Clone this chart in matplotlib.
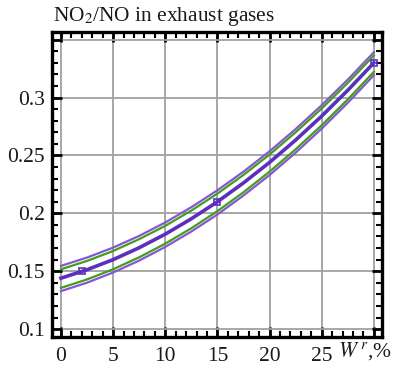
import matplotlib
matplotlib.use("Agg")
import matplotlib.pyplot as plt
from matplotlib.ticker import MultipleLocator

plt.rcParams['font.family'] = ['Liberation Serif', 'DejaVu Serif']
plt.rcParams['mathtext.fontset'] = 'stix'

x = [0, 2.5, 5, 7.5, 10, 12.5, 15, 17.5, 20, 22.5, 25, 27.5, 30]
center = [0.1440, 0.1513, 0.1600, 0.1703, 0.1820, 0.1953, 0.2100, 0.2263, 0.2440, 0.2633, 0.2840, 0.3063, 0.3300]
green_upper = [0.1517, 0.1589, 0.1675, 0.1777, 0.1892, 0.2024, 0.2170, 0.2332, 0.2508, 0.2700, 0.2906, 0.3127, 0.3363]
green_lower = [0.1356, 0.1429, 0.1517, 0.1620, 0.1738, 0.1871, 0.2019, 0.2182, 0.2360, 0.2553, 0.2761, 0.2984, 0.3222]
purple_upper = [0.1546, 0.1618, 0.1704, 0.1805, 0.1921, 0.2053, 0.2199, 0.2360, 0.2536, 0.2728, 0.2934, 0.3155, 0.3391]
purple_lower = [0.1328, 0.1401, 0.1489, 0.1592, 0.1710, 0.1843, 0.1990, 0.2154, 0.2331, 0.2524, 0.2732, 0.2955, 0.3193]
marker_x = [2, 15, 30]
marker_y = [0.150, 0.210, 0.330]

xticks = [0, 5, 10, 15, 20, 25, 30]
xticklabels = ['0', '5', '10', '15', '20', '25', '']
yticks = [0.1, 0.15, 0.2, 0.25, 0.3, 0.35]
yticklabels = ['0.1', '0.15', '0.2', '0.25', '0.3', '']

fig = plt.figure(figsize=(3.97, 3.68), dpi=100)
ax = fig.add_axes([0.131, 0.084, 0.831, 0.829])

c_center = '#5a30bc'
c_outer = '#8a55d2'
c_green = '#3f9e1e'

ax.plot(x, purple_upper, color=c_outer, lw=1.6, zorder=3)
ax.plot(x, purple_lower, color=c_outer, lw=1.6, zorder=3)
ax.plot(x, green_upper, color=c_green, lw=1.6, zorder=3)
ax.plot(x, green_lower, color=c_green, lw=1.6, zorder=3)
ax.plot(x, center, color=c_center, lw=2.6, zorder=4)
ax.plot(marker_x, marker_y, ls='none', marker='s', ms=4, mfc='none', mec=c_center, mew=1.2, zorder=5)

ax.set_xlim(-0.86, 30.77)
ax.set_ylim(0.0931, 0.3566)
ax.set_xticks(xticks)
ax.set_xticklabels(xticklabels)
ax.set_yticks(yticks)
ax.set_yticklabels(yticklabels)
ax.xaxis.set_minor_locator(MultipleLocator(1))
ax.yaxis.set_minor_locator(MultipleLocator(0.01))

ax.grid(True, which='major', color='#a0a0a0', lw=1.3, zorder=1)
ax.set_axisbelow(True)
for s in ax.spines.values():
    s.set_linewidth(2.4)
    s.set_color('black')

ax.tick_params(which='major', direction='in', length=7, width=2.0, top=True, right=True,
               labelsize=15.5, colors='black')
ax.tick_params(axis='x', which='major', pad=7)
ax.tick_params(axis='y', which='major', pad=5)
ax.tick_params(which='minor', direction='in', length=4, width=1.5, top=True, right=True)
for lab in ax.get_xticklabels() + ax.get_yticklabels():
    lab.set_color('#1a1a1a')

fig.text(0.133, 0.943, 'NO$_2$/NO in exhaust gases', fontsize=15.4, ha='left', va='baseline', color='#1a1a1a')
fig.text(0.987, 0.030, '$\\mathit{W}^{\\,r}$,%', fontsize=15.5, ha='right', va='baseline', color='#1a1a1a')

fig.savefig('out.png', dpi=100)
